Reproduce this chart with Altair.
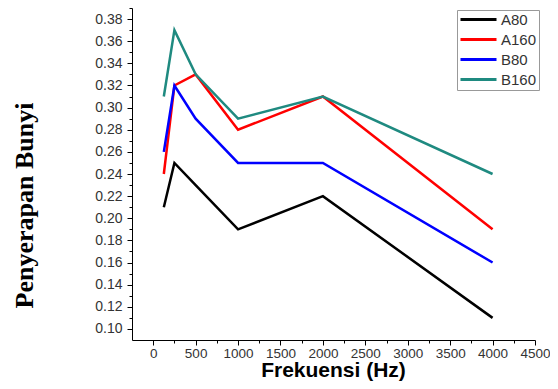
import altair as alt
import pandas as pd

freq = [125, 250, 500, 1000, 2000, 4000]
a80 = [0.21, 0.25, 0.23, 0.19, 0.22, 0.11]
a160 = [0.24, 0.32, 0.33, 0.28, 0.31, 0.19]
b80 = [0.26, 0.32, 0.29, 0.25, 0.25, 0.16]
b160 = [0.31, 0.37, 0.33, 0.29, 0.31, 0.24]
series = ["A80", "A160", "B80", "B160"]
colors = ["#000000", "#ff0000", "#0000ff", "#1f8a80"]

x_ticks = list(range(0, 4501, 250))
y_ticks = [round(0.10 + 0.01 * i, 2) for i in range(30)]

rows = []
for name, vals in zip(series, [a80, a160, b80, b160]):
    for f, v in zip(freq, vals):
        rows.append({"f": f, "v": v, "s": name})
df = pd.DataFrame(rows)

chart = alt.Chart(df).mark_line(strokeWidth=2.5).encode(
    x=alt.X(
        "f:Q",
        scale=alt.Scale(domain=[-250, 4500], nice=False, zero=False),
        axis=alt.Axis(
            values=x_ticks,
            title="Frekuensi (Hz)",
            format="d",
            grid=False,
            labelExpr="datum.value % 500 == 0 ? datum.label : ''",
            tickSize={"condition": {"test": "datum.value % 500 != 0", "value": 3}, "value": 5},
            labelOverlap=False,
            labelFlush=False,
            labelPadding=1,
            labelFontSize=13.5,
            titleFontSize=21,
            titleFont="Liberation Sans",
            titleFontWeight="bold",
            titleX=201,
            titleY=36,
            titleBaseline="alphabetic",
            titleAlign="center",
        ),
    ),
    y=alt.Y(
        "v:Q",
        scale=alt.Scale(domain=[0.09, 0.39], nice=False, zero=False),
        axis=alt.Axis(
            values=y_ticks,
            title="Penyerapan Bunyi",
            format=".2f",
            grid=False,
            labelExpr="round(datum.value * 100) % 2 == 0 ? datum.label : ''",
            tickSize={"condition": {"test": "round(datum.value * 100) % 2 != 0", "value": 3}, "value": 5},
            labelOverlap=False,
            labelPadding=5,
            labelFontSize=14,
            titleFontSize=26,
            titleFont="Liberation Serif",
            titleFontWeight="bold",
            titleAngle=-90,
            titleX=-100,
            titleY=197,
            titleBaseline="alphabetic",
            titleAlign="center",
        ),
    ),
    color=alt.Color(
        "s:N",
        scale=alt.Scale(domain=series, range=colors),
        sort=series,
        legend=alt.Legend(
            title=None,
            orient="none",
            legendX=325,
            legendY=2,
            strokeColor="#999999",
            fillColor="white",
            padding=2,
            symbolType="M-1,0H5",
            symbolSize=144,
            symbolStrokeWidth=3,
            labelOffset=27,
            labelFontSize=15,
            labelFont="Liberation Sans",
            labelColor="#333333",
            rowPadding=4,
        ),
    ),
).properties(
    width=403,
    height=332,
    autosize=alt.AutoSizeParams(type="none"),
    padding={"left": 124, "top": 0, "right": 15, "bottom": 41},
).configure_view(stroke=None).configure_axis(
    labelFont="Liberation Sans",
    labelColor="#333333",
    domainColor="#000000",
    tickColor="#000000",
    titleColor="#000000",
)

chart.save("out.html", embed_options={"renderer": "svg", "actions": False})
